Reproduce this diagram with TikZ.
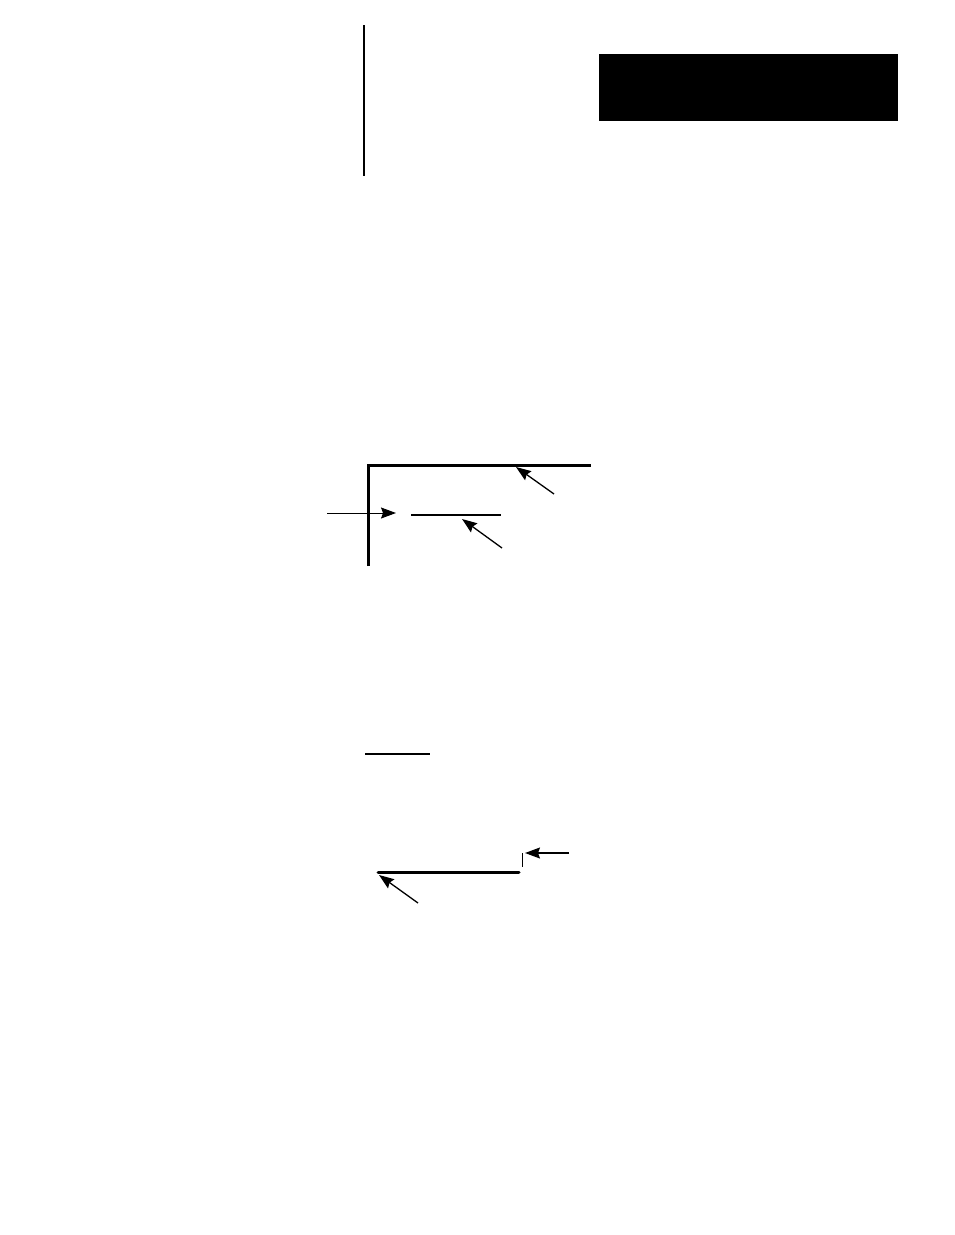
\documentclass[tikz,border=0pt]{standalone}
\usetikzlibrary{arrows.meta}
\begin{document}
\begin{tikzpicture}[x=1pt,y=-1pt,
  thick line/.style={line width=3pt},
  mid line/.style={line width=2.2pt},
  thin line/.style={line width=1.2pt},
  pointer/.style={line width=1.3pt,-{Stealth[length=15pt,width=11pt,inset=2pt]}}]
\useasboundingbox[fill=white] (0,0) rectangle (954,1235);
% header
\draw[line width=2.5pt] (364,25) -- (364,176);
\fill[black] (599,54) rectangle (898,121);
% upper figure
\coordinate (c1) at (368,566);
\coordinate (c2) at (368,465);
\coordinate (c3) at (591,465);
\draw[thick line] (c1) -- (c2) -- (c3);
\coordinate (m1) at (411,515);
\coordinate (m2) at (501,515);
\draw[mid line] (m1) -- (m2);
\coordinate (a1t) at (554,494); \coordinate (a1h) at (516,467);
\draw[pointer] (a1t) -- (a1h);
\coordinate (a2t) at (502,548); \coordinate (a2h) at (462,519);
\draw[pointer] (a2t) -- (a2h);
\coordinate (a3t) at (327,513); \coordinate (a3h) at (396,513);
\draw[pointer,line width=1pt] (a3t) -- (a3h);
% lower figure
\coordinate (s1) at (365,754); \coordinate (s2) at (430,754);
\draw[thin line] (s1) -- (s2);
\coordinate (b1) at (378,872); \coordinate (b2) at (519,872);
\draw[thick line,line cap=round] (b1) -- (b2);
\coordinate (k1) at (522,853); \coordinate (k2) at (522,867);
\draw[line width=1pt] (k1) -- (k2);
\coordinate (a4t) at (569,853); \coordinate (a4h) at (525,853);
\draw[pointer] (a4t) -- (a4h);
\coordinate (a5t) at (418,903); \coordinate (a5h) at (379,875);
\draw[pointer] (a5t) -- (a5h);
\end{tikzpicture}
\end{document}
